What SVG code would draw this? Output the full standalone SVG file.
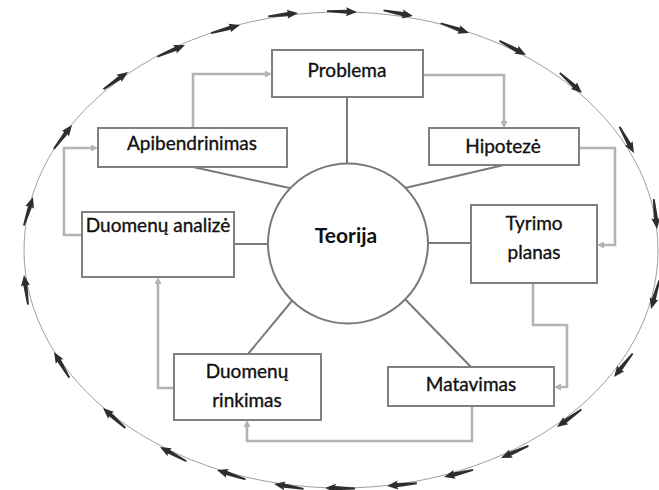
<svg xmlns="http://www.w3.org/2000/svg" width="659" height="490" viewBox="0 0 659 490">
<style>
.box{fill:#fff;stroke:#808080;stroke-width:2}
.lbl{font-family:Lato,"Liberation Sans",sans-serif;font-size:19px;fill:#111;stroke:#111;stroke-width:0.35;text-anchor:middle}
.spoke{stroke:#7a7a7a;stroke-width:2;fill:none}
.flow{stroke:#b4b4b4;stroke-width:2.6;fill:none;marker-end:url(#ah)}
.cyc{fill:#2e2e2e}
</style>
<defs>
<marker id="ah" viewBox="0 0 7 7" refX="1" refY="3.5" markerWidth="7" markerHeight="7" markerUnits="userSpaceOnUse" orient="auto">
<path d="M0,0 L7,3.5 L0,7 Z" fill="#b4b4b4"/>
</marker>
<path id="ar" class="cyc" d="M0,0 L-11,-4.5 L-10,-2.1 L-30,-0.9 L-30,0.9 L-10,2.1 L-11,4.5 Z"/>
</defs>
<rect width="659" height="490" fill="#fff"/>
<g id="cycle">
<ellipse cx="341" cy="250" rx="317" ry="238" fill="none" stroke="#a0a0a0" stroke-width="1"/>
<use href="#ar" transform="translate(357 12) rotate(1.5)"/>
<use href="#ar" transform="translate(413 16) rotate(10.6)"/>
<use href="#ar" transform="translate(469 33) rotate(19)"/>
<use href="#ar" transform="translate(526 55) rotate(28)"/>
<use href="#ar" transform="translate(582 93) rotate(42.2)"/>
<use href="#ar" transform="translate(634 153) rotate(61.1)"/>
<use href="#ar" transform="translate(657 229) rotate(83.8)"/>
<use href="#ar" transform="translate(651 309) rotate(106.2)"/>
<use href="#ar" transform="translate(614 377) rotate(128.5)"/>
<use href="#ar" transform="translate(557 427) rotate(144.4)"/>
<use href="#ar" transform="translate(501 458) rotate(156.1)"/>
<use href="#ar" transform="translate(444 477) rotate(166.2)"/>
<use href="#ar" transform="translate(387 486) rotate(174.7)"/>
<use href="#ar" transform="translate(325 488) rotate(181)"/>
<use href="#ar" transform="translate(274 484) rotate(189.5)"/>
<use href="#ar" transform="translate(217 470) rotate(198)"/>
<use href="#ar" transform="translate(160 447) rotate(208.5)"/>
<use href="#ar" transform="translate(103 408) rotate(221.9)"/>
<use href="#ar" transform="translate(54 352) rotate(239.3)"/>
<use href="#ar" transform="translate(24 275) rotate(262.3)"/>
<use href="#ar" transform="translate(33 197) rotate(287.7)"/>
<use href="#ar" transform="translate(72 125) rotate(307.2)"/>
<use href="#ar" transform="translate(128 72) rotate(324.7)"/>
<use href="#ar" transform="translate(185 45) rotate(337.2)"/>
<use href="#ar" transform="translate(240 25) rotate(344.2)"/>
<use href="#ar" transform="translate(298 13) rotate(353.7)"/>
</g>
<g id="connectors">
<path class="spoke" d="M347,97 V170"/>
<path class="spoke" d="M504,165 L405,188"/>
<path class="spoke" d="M193,167 L294,189"/>
<path class="spoke" d="M235,244 H275"/>
<path class="spoke" d="M421,243 H471"/>
<path class="spoke" d="M402,296 L471,367"/>
<path class="spoke" d="M296,296 L248,354"/>
<path class="flow" d="M193,128 V74 H266"/>
<path class="flow" d="M423,75 H504 V122"/>
<path class="flow" d="M579,148 H615 V245 H603"/>
<path class="flow" d="M533,283 V325 H567 V387 H560"/>
<path class="flow" d="M472,406 V441 H247 V426"/>
<path class="flow" d="M174,388 H158 V283"/>
<path class="flow" d="M82,235 H64 V148 H92"/>
</g>
<g id="teorija">
<circle cx="348" cy="243.5" r="80" fill="#fff" stroke="#7a7a7a" stroke-width="2"/>
<text class="lbl" x="346" y="243" style="font-size:21px;font-weight:bold;stroke:none">Teorija</text>
</g>
<g id="problema">
<rect class="box" x="272" y="50" width="151" height="47"/>
<text class="lbl" x="347" y="77">Problema</text>
</g>
<g id="hipoteze">
<rect class="box" x="429" y="128" width="150" height="37"/>
<text class="lbl" x="503" y="153">Hipotezė</text>
</g>
<g id="tyrimo-planas">
<rect class="box" x="471" y="205" width="126" height="78"/>
<text class="lbl" x="534" y="230">Tyrimo</text>
<text class="lbl" x="534" y="259">planas</text>
</g>
<g id="matavimas">
<rect class="box" x="388" y="367" width="166" height="39"/>
<text class="lbl" x="471" y="391">Matavimas</text>
</g>
<g id="duomenu-rinkimas">
<rect class="box" x="174" y="354" width="147" height="66"/>
<text class="lbl" x="247" y="378">Duomenų</text>
<text class="lbl" x="247" y="407">rinkimas</text>
</g>
<g id="duomenu-analize">
<rect class="box" x="82" y="212" width="152" height="65"/>
<text class="lbl" x="158" y="232">Duomenų analizė</text>
</g>
<g id="apibendrinimas">
<rect class="box" x="98" y="128" width="189" height="39"/>
<text class="lbl" x="192" y="150">Apibendrinimas</text>
</g>
</svg>
